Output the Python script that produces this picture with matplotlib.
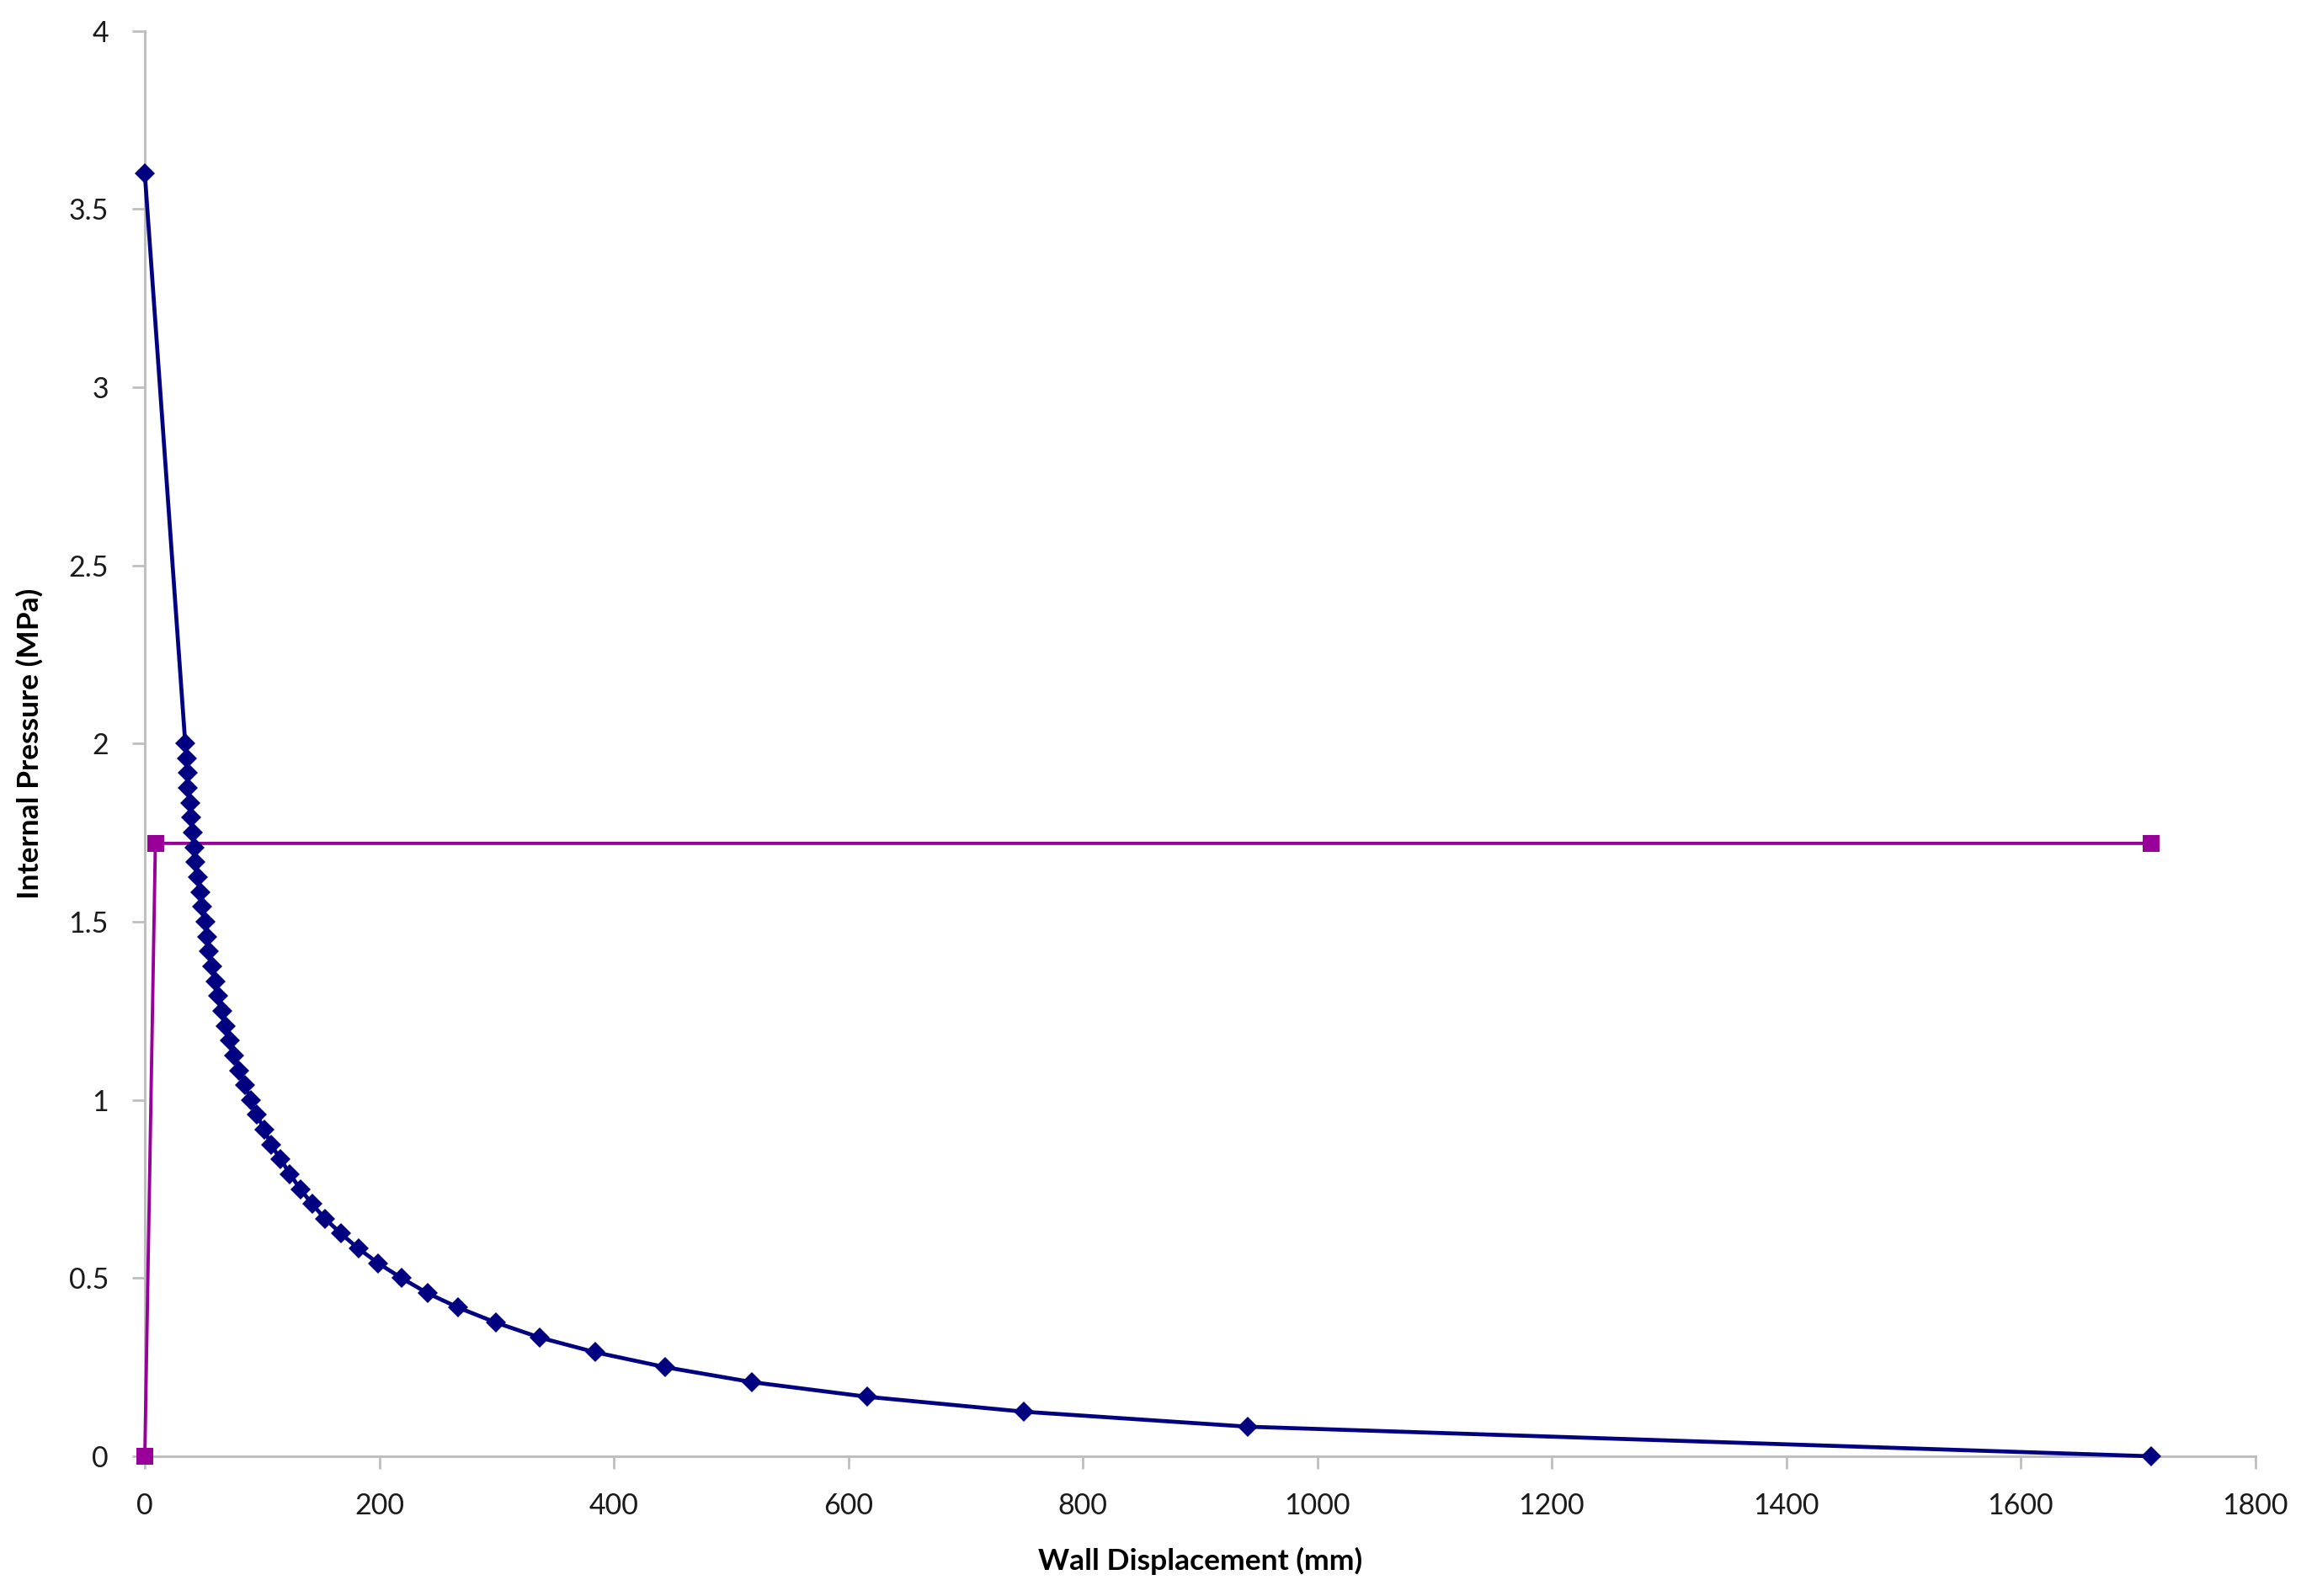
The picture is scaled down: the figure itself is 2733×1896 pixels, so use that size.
import matplotlib
matplotlib.use("Agg")
import matplotlib.pyplot as plt
from matplotlib.ticker import FuncFormatter

# Ground reaction curve (blue)
wall_disp_mm = [0, 34.5, 35.7, 36.4, 36.9, 38.5, 39.7, 40.9, 42.4, 43.3, 45.2, 47.2, 48.8, 51.9,
                52.9, 54.8, 57.2, 60.1, 62.7, 66.3, 69.2, 72.8, 76.4, 80.7, 85.5, 90.2, 95.5,
                102, 107.5, 115.9, 123.8, 132.6, 142.7, 153.7, 167.3, 182.2, 199,
                219, 241, 267.5, 299.6, 337, 384, 444, 518, 616, 750, 941, 1711]
internal_pressure = [3.6, 2.0, 1.958, 1.917, 1.875, 1.833, 1.792, 1.75, 1.708, 1.667, 1.625, 1.583, 1.542, 1.5,
                     1.458, 1.417, 1.375, 1.333, 1.292, 1.25, 1.208, 1.167, 1.125, 1.083, 1.042, 1.0, 0.958,
                     0.917, 0.875, 0.833, 0.792, 0.75, 0.708, 0.667, 0.625, 0.583, 0.542,
                     0.5, 0.458, 0.417, 0.375, 0.333, 0.292, 0.25, 0.208, 0.167, 0.125, 0.083, 0.0]

# Support characteristic (magenta)
support_disp_mm = [0, 9, 1711]
support_pressure = [0, 1.72, 1.72]

x_ticks = [0, 200, 400, 600, 800, 1000, 1200, 1400, 1600, 1800]
y_ticks = [0, 0.5, 1, 1.5, 2, 2.5, 3, 3.5, 4]

plt.rcParams['font.family'] = ['Lato', 'DejaVu Sans']

fig = plt.figure(figsize=(27.33, 18.96), dpi=100)
ax = fig.add_axes([172/2733, 166/1896, (2678.5-172)/2733, (1730-36.7)/1896])

ax.plot(wall_disp_mm, internal_pressure, color='#000080', lw=3.4, marker='D',
        markersize=12.5, markeredgewidth=0, zorder=3, clip_on=False)
ax.plot(support_disp_mm, support_pressure, color='#990099', lw=2.8, marker='s',
        markersize=15, markeredgewidth=0, zorder=2, clip_on=False)

ax.set_xlim(0, 1800)
ax.set_ylim(0, 4)
ax.set_xticks(x_ticks)
ax.set_yticks(y_ticks)
ax.yaxis.set_major_formatter(FuncFormatter(lambda v, p: f"{v:g}"))

for s in ['top', 'right']:
    ax.spines[s].set_visible(False)
for s in ['left', 'bottom']:
    ax.spines[s].set_color('#BFBFBF')
    ax.spines[s].set_linewidth(2.2)
    ax.spines[s].set_zorder(1)

ax.tick_params(axis='both', which='major', direction='out', length=11, width=2.0,
               color='#BFBFBF', labelsize=24.5, labelcolor='#1a1a1a', pad=20)

ax.set_xlabel('Wall Displacement (mm)', fontsize=25.5, fontweight='bold')
ax.set_ylabel('Internal Pressure (MPa)', fontsize=25.5, fontweight='bold')
ax.xaxis.set_label_coords(0.5, -0.064)
ax.yaxis.set_label_coords(-0.048, 0.5)

fig.savefig('out.png', dpi=100, facecolor='white')
